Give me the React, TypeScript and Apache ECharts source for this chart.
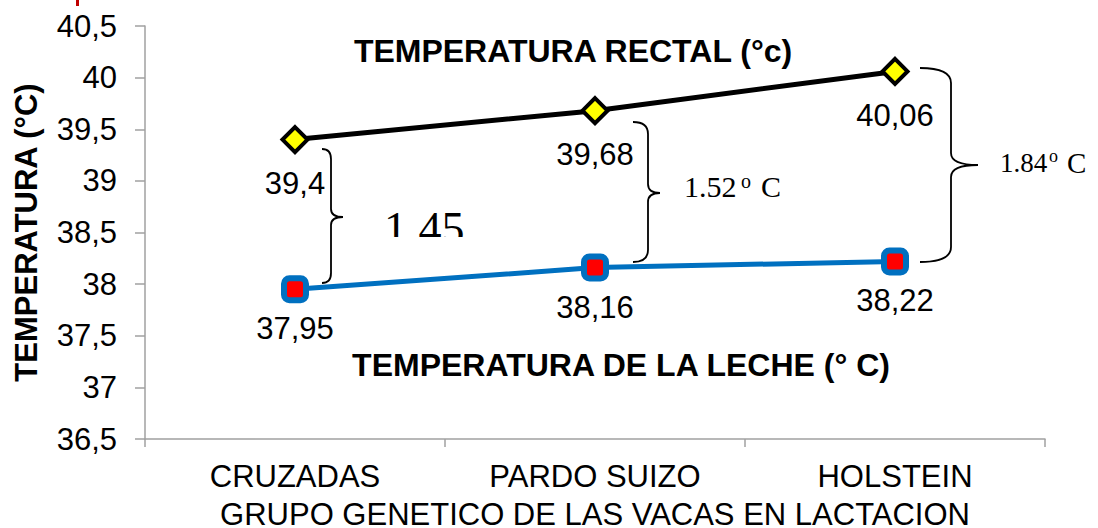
import React, { useEffect, useRef } from "react";
import * as echarts from "echarts";

const categories = ["CRUZADAS", "PARDO SUIZO", "HOLSTEIN"];
const rectalTemp = [39.4, 39.68, 40.06];
const milkTemp = [37.95, 38.16, 38.22];
const yMin = 36.5;
const yMax = 40.5;
const yStep = 0.5;
const yName = "TEMPERATURA (°C)";
const xName = "GRUPO GENETICO DE LAS VACAS EN LACTACION";
const rectalTitle = "TEMPERATURA RECTAL (°c)";
const milkTitle = "TEMPERATURA DE LA LECHE (° C)";

const SANS = "'Liberation Sans', Arial, sans-serif";
const SERIF = "'Liberation Serif', 'Times New Roman', serif";

function braceD(x0: number, xv: number, xt: number, yT: number, ym: number, yB: number, r: number, r2: number) {
  return [
    `M ${x0} ${yT}`,
    `Q ${xv} ${yT} ${xv} ${yT + r}`,
    `L ${xv} ${ym - r2}`,
    `Q ${xv} ${ym} ${xt} ${ym}`,
    `Q ${xv} ${ym} ${xv} ${ym + r2}`,
    `L ${xv} ${yB - r}`,
    `Q ${xv} ${yB} ${x0} ${yB}`,
  ].join(" ");
}

let registered = false;
function registerBraces() {
  if (registered) return;
  registered = true;
  echarts.graphic.registerShape("brace1", echarts.graphic.extendPath(braceD(322, 331, 343, 149, 217, 283, 10, 8), {}));
  echarts.graphic.registerShape("brace2", echarts.graphic.extendPath(braceD(633, 648, 660, 122, 193, 262, 12, 9), {}));
  echarts.graphic.registerShape("brace3", echarts.graphic.extendPath(braceD(920, 951, 978, 68, 165, 262, 15, 12), {}));
}

export default function App() {
  const ref = useRef<HTMLDivElement>(null);
  useEffect(() => {
    if (!ref.current) return;
    registerBraces();
    const chart = echarts.init(ref.current, null, { renderer: "svg" });
    const axisColor = "#a0a0a0";
    const braceStyle = { stroke: "#000", lineWidth: 1.8, fill: "none" };
    chart.setOption({
      animation: false,
      backgroundColor: "#fff",
      grid: { left: 145, top: 26, right: 53, bottom: 89, containLabel: false, outerBoundsMode: "none" },
      xAxis: {
        type: "category",
        data: categories,
        boundaryGap: true,
        name: xName,
        nameLocation: "middle",
        nameGap: 60,
        nameTextStyle: { fontFamily: SANS, fontSize: 31, color: "#000" },
        axisLine: { lineStyle: { color: axisColor, width: 1.5 } },
        axisTick: { show: true, length: 8, lineStyle: { color: axisColor, width: 1.5 } },
        axisLabel: { fontFamily: SANS, fontSize: 31, color: "#000", margin: 22, interval: 0 },
        splitLine: { show: false },
      },
      yAxis: {
        type: "value",
        min: yMin,
        max: yMax,
        interval: yStep,
        name: yName,
        nameLocation: "middle",
        nameGap: 103,
        nameTextStyle: { fontFamily: SANS, fontSize: 31, fontWeight: "bold", color: "#000" },
        axisLine: { show: true, lineStyle: { color: axisColor, width: 1.5 } },
        axisTick: { show: true, length: 10, lineStyle: { color: axisColor, width: 1.5 } },
        axisLabel: {
          fontFamily: SANS,
          fontSize: 31,
          color: "#000",
          margin: 28,
          formatter: (v: number) => String(Math.round(v * 10) / 10).replace(".", ","),
        },
        splitLine: { show: false },
      },
      series: [
        {
          name: "rectal",
          type: "line",
          data: rectalTemp,
          symbol: "diamond",
          symbolSize: 25,
          lineStyle: { color: "#000", width: 5 },
          itemStyle: { color: "#ffff00", borderColor: "#000", borderWidth: 4 },
          label: {
            show: true,
            position: "bottom",
            distance: 14,
            fontFamily: SANS,
            fontSize: 31,
            color: "#000",
            formatter: (p: any) => String(p.value).replace(".", ","),
          },
          z: 3,
        },
        {
          name: "leche",
          type: "line",
          data: milkTemp,
          symbol: "roundRect",
          symbolSize: 22,
          lineStyle: { color: "#0070c0", width: 5 },
          itemStyle: { color: "#ff0000", borderColor: "#0070c0", borderWidth: 6 },
          label: {
            show: true,
            position: "bottom",
            distance: 10,
            fontFamily: SANS,
            fontSize: 31,
            color: "#000",
            formatter: (p: any) => String(p.value).replace(".", ","),
          },
          z: 3,
        },
      ],
      graphic: [
        { type: "rect", shape: { x: 76, y: 0, width: 3, height: 6 }, style: { fill: "#c00000" } },
        {
          type: "text", x: 573, y: 51, z: 10,
          style: { text: rectalTitle, font: `bold 32px ${SANS}`, fill: "#000", align: "center", verticalAlign: "middle" },
        },
        {
          type: "text", x: 621, y: 365, z: 10,
          style: { text: milkTitle, font: `bold 32px ${SANS}`, fill: "#000", align: "center", verticalAlign: "middle" },
        },
        { type: "brace1", z: 10, style: braceStyle },
        { type: "brace2", z: 10, style: braceStyle },
        { type: "brace3", z: 10, style: braceStyle },
        {
          type: "text", x: 384, y: 228, z: 10,
          style: { text: "1.45", font: `46px ${SERIF}`, fill: "#000", align: "left", verticalAlign: "middle" },
        },
        { type: "rect", z: 11, shape: { x: 360, y: 237, width: 150, height: 16 }, style: { fill: "#fff" } },
        {
          type: "text", x: 684, y: 186, z: 10,
          style: { text: "1.52", font: `30px ${SERIF}`, fill: "#000", align: "left", verticalAlign: "middle" },
        },
        {
          type: "text", x: 741, y: 181, z: 10,
          style: { text: "o", font: `20px ${SERIF}`, fill: "#000", align: "left", verticalAlign: "middle" },
        },
        {
          type: "text", x: 761, y: 186, z: 10,
          style: { text: "C", font: `30px ${SERIF}`, fill: "#000", align: "left", verticalAlign: "middle" },
        },
        {
          type: "text", x: 1000, y: 163, z: 10,
          style: { text: "1.84", font: `27px ${SERIF}`, fill: "#000", align: "left", verticalAlign: "middle" },
        },
        {
          type: "text", x: 1049, y: 156, z: 10,
          style: { text: "o", font: `18px ${SERIF}`, fill: "#000", align: "left", verticalAlign: "middle" },
        },
        {
          type: "text", x: 1067, y: 163, z: 10,
          style: { text: "C", font: `29px ${SERIF}`, fill: "#000", align: "left", verticalAlign: "middle" },
        },
      ],
    });
    return () => chart.dispose();
  }, []);
  return <div ref={ref} style={{ position: "fixed", left: 0, top: 0, width: 1098, height: 528 }} />;
}
